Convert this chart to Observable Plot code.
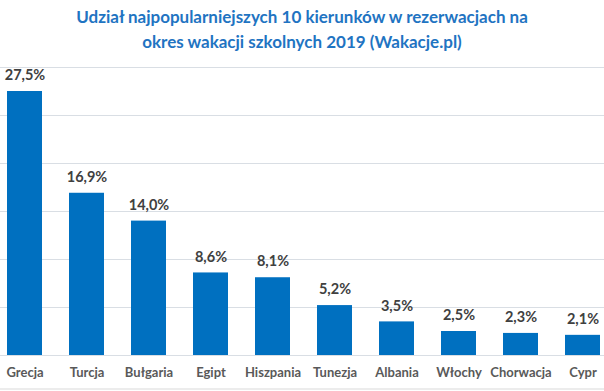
<!DOCTYPE html>
<html><head><meta charset="utf-8">
<script src="https://cdn.jsdelivr.net/npm/d3@7"></script>
<script src="https://cdn.jsdelivr.net/npm/@observablehq/plot@0.6"></script>
<style>
body{margin:0;background:#fff;width:604px;height:391px;overflow:hidden;font-family:Lato,sans-serif;}
#title{height:58px;text-align:center;color:#1F74C2;font-weight:bold;font-size:17px;line-height:25px;padding-top:4px;box-sizing:border-box;}
</style></head><body>
<div id="title">Udział najpopularniejszych 10 kierunków w rezerwacjach na<br>okres wakacji szkolnych 2019 (Wakacje.pl)</div>
<div id="chart"></div>
<script>
const countries = ["Grecja","Turcja","Bułgaria","Egipt","Hiszpania","Tunezja","Albania","Włochy","Chorwacja","Cypr"];
const shares = [27.5,16.9,14.0,8.6,8.1,5.2,3.5,2.5,2.3,2.1];
const labels = ["27,5%","16,9%","14,0%","8,6%","8,1%","5,2%","3,5%","2,5%","2,3%","2,1%"];
const gridTicks = [0,5,10,15,20,25,30];

const data = countries.map((c,i)=>({country:c, value:shares[i], label:labels[i]}));

const chart = Plot.plot({
  width:604, height:333,
  marginTop:0, marginBottom:0, marginLeft:0, marginRight:0,
  style:{fontFamily:"Lato, sans-serif", background:"#fff", overflow:"hidden"},
  x:{domain:countries, range:[-20,627], padding:0.435, align:0.5, axis:null},
  y:{domain:[0,30], range:[297,9], axis:null},
  marks:[
    Plot.ruleY(gridTicks.slice(1), {stroke:"#d9dee4", strokeWidth:1}),
    Plot.ruleY([0], {stroke:"#d9dee4", strokeWidth:1}),
    Plot.barY(data, {x:"country", y:"value", fill:"#0070C0"}),
    Plot.text(data, {x:"country", y:"value", text:"label", dy:-16, fill:"#404040", fontSize:14.5, fontWeight:"bold"}),
    Plot.text(data, {x:"country", y:0, text:"country", dy:17, fill:"#595959", fontSize:13, fontWeight:"bold"})
  ]
});
document.getElementById("chart").appendChild(chart);
const svg = d3.select(chart);
svg.append("line").attr("x1",0).attr("x2",604).attr("y1",331).attr("y2",331).attr("stroke","#d9d9d9");
</script>
</body></html>
